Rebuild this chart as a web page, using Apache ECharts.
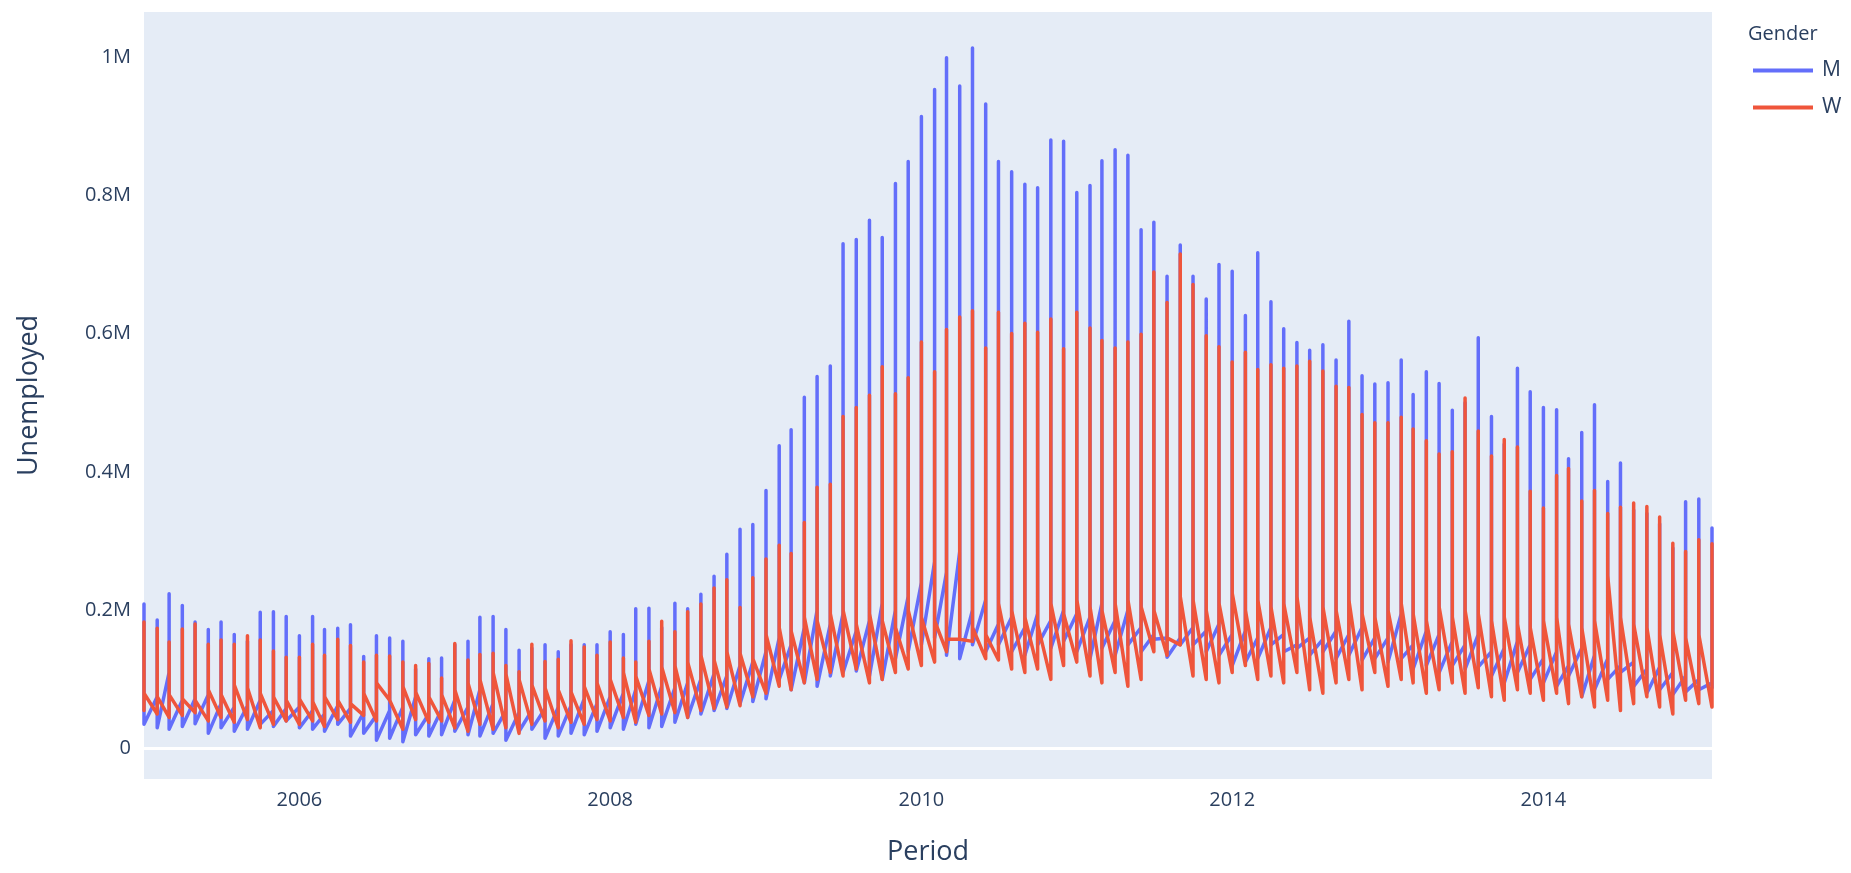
<!DOCTYPE html>
<html>
<head>
<meta charset="utf-8">
<script src="https://cdn.jsdelivr.net/npm/echarts@6/dist/echarts.min.js"></script>
<style>
html, body { margin: 0; padding: 0; background: #fff; }
#chart { width: 1851px; height: 873px; }
</style>
</head>
<body>
<div id="chart"></div>
<script>
// monthly periods, Jan 2005 .. Feb 2015 (122 months); values in thousands
var startYear = 2005;
var yTicks = [0, 200000, 400000, 600000, 800000, 1000000];
var xTickYears = [2006, 2008, 2010, 2012, 2014];

// Men: first point of the month, the spike (peak), last point of the month
var menFirst = [
  60,75,110,70,72,78,65,60,62,70,55,58,
  60,55,50,62,58,52,48,55,60,75,50,56,
  70,60,85,65,55,52,55,58,60,62,72,65,
  75,80,85,98,90,88,95,100,108,105,120,125,
  140,160,150,175,200,180,195,170,185,210,200,220,
  240,270,255,285,200,215,180,190,175,195,185,200,
  195,190,210,185,200,175,165,160,160,175,170,180,
  165,170,160,175,165,150,160,158,170,165,175,160,
  160,195,150,170,165,155,150,165,140,145,155,150,
  130,140,120,145,135,130,120,125,115,118,110,105,
  100,95
];
var menPeak = [
  209,186,224,207,183,172,183,165,155,197,198,191,
  163,191,172,174,179,133,163,160,155,115,130,131,
  150,155,190,191,172,142,145,150,140,150,150,150,
  169,165,202,203,175,210,202,223,249,281,317,324,
  373,438,461,508,538,553,730,736,764,739,817,849,
  914,953,999,958,1013,932,849,834,816,811,880,878,
  804,814,850,866,858,750,761,683,728,683,650,700,
  690,626,717,646,607,587,576,584,562,618,539,527,
  529,562,512,545,528,489,500,594,480,440,550,516,
  493,490,419,457,497,386,413,345,340,325,290,357,
  361,319
];
var menLast = [
  35,30,28,32,36,22,30,25,28,35,32,40,
  30,28,25,35,18,22,12,15,10,20,18,20,
  25,20,18,22,12,25,28,15,18,22,20,25,
  30,28,35,30,32,38,45,50,55,58,65,68,
  72,100,85,95,90,105,110,112,105,100,130,140,
  150,160,135,130,150,140,150,140,135,150,145,155,
  140,130,145,135,150,140,158,132,150,150,140,135,
  120,125,130,150,140,145,135,140,130,135,128,130,
  125,130,115,120,110,120,115,118,105,95,110,100,
  95,90,105,75,85,100,110,90,80,85,78,82,
  85,88
];

// Women
var womenFirst = [
  55,50,45,48,52,40,45,38,42,30,35,40,
  35,40,32,42,38,48,40,70,28,42,38,40,
  30,25,35,28,30,22,35,40,30,38,35,42,
  40,45,38,48,50,52,45,55,58,60,62,75,
  80,90,85,95,100,110,105,115,95,100,110,115,
  120,125,140,158,155,130,128,115,110,115,100,120,
  125,105,95,110,90,100,140,135,150,105,100,95,
  110,120,100,105,95,110,85,80,95,100,85,110,
  90,100,95,80,85,95,80,88,75,70,85,80,
  70,80,65,75,60,70,55,65,75,60,50,70,
  65,60
];
var womenPeak = [
  183,174,154,173,180,151,157,151,163,157,141,132,
  132,151,135,158,149,125,135,134,125,120,123,102,
  152,128,136,138,120,111,151,126,129,156,147,135,
  154,131,125,155,184,169,198,209,232,244,204,247,
  274,294,282,327,378,382,480,493,511,552,513,536,
  588,545,606,624,633,579,631,600,615,602,621,578,
  631,608,590,579,588,599,689,645,715,671,597,581,
  559,573,548,555,550,553,560,546,524,522,483,471,
  471,479,462,445,426,429,507,459,423,447,436,372,
  348,395,405,358,373,340,349,355,350,335,297,285,
  302,296
];
var womenLast = [
  80,75,78,72,70,85,78,92,88,80,75,70,
  72,68,75,70,65,80,95,70,90,82,75,78,
  85,95,100,110,108,100,92,88,85,82,90,95,
  100,110,105,115,118,120,125,135,128,140,138,130,
  165,175,170,190,185,195,200,180,195,185,175,200,
  190,185,158,158,175,165,210,200,190,180,210,195,
  215,205,200,210,215,205,200,160,220,215,200,210,
  225,200,215,205,210,220,190,205,200,215,195,190,
  200,210,195,185,205,190,200,195,185,190,180,175,
  185,190,180,175,185,250,190,180,175,165,170,160,
  165,150
];

var textColor = '#2a3f5f';
var fontFam = '"Open Sans", verdana, arial, sans-serif';

function buildLine(first, peak, last) {
    var pts = [];
    for (var i = 0; i < peak.length; i++) {
        var t = Date.UTC(startYear, i, 1);
        pts.push([t, first[i] * 1000], [t, peak[i] * 1000], [t, last[i] * 1000]);
    }
    return pts;
}

var chart = echarts.init(document.getElementById('chart'));

var option = {
    animation: false,
    backgroundColor: '#fff',
    title: {
        text: 'Gender',
        left: 1748,
        top: 24,
        padding: 0,
        textStyle: {fontFamily: fontFam, fontSize: 20, fontWeight: 'normal', color: textColor}
    },
    // legend names get cut off at the right edge, like the original
    legend: {
        orient: 'vertical',
        left: 1753,
        top: 59,
        padding: 0,
        icon: 'rect',
        itemWidth: 60,
        itemHeight: 4,
        itemGap: 14,
        textStyle: {
            fontFamily: fontFam, fontSize: 21, color: textColor, lineHeight: 23,
            padding: [0, 0, 0, 4], width: 21, overflow: 'truncate', ellipsis: ''
        },
        data: ['Men', 'Women']
    },
    grid: {
        left: 144,
        right: 139,
        top: 12,
        bottom: 94,
        show: true,
        backgroundColor: '#E5ECF6',
        borderWidth: 0
    },
    // time values on a plain value axis so the year ticks can be placed exactly
    xAxis: {
        type: 'value',
        min: Date.UTC(startYear, 0, 1),
        max: Date.UTC(2015, 1, 1),
        name: 'Period',
        nameLocation: 'middle',
        nameGap: 60,
        nameTextStyle: {fontFamily: fontFam, fontSize: 27, color: textColor},
        axisLine: {show: false},
        axisTick: {show: false},
        splitLine: {show: false},
        axisLabel: {
            customValues: xTickYears.map(function (y) { return Date.UTC(y, 0, 1); }),
            formatter: function (v) { return String(new Date(v).getUTCFullYear()); },
            margin: 11,
            fontFamily: fontFam,
            fontSize: 20,
            color: textColor
        }
    },
    yAxis: {
        type: 'value',
        min: -44000,
        max: 1065000,
        name: 'Unemployed',
        nameLocation: 'middle',
        nameGap: 101,
        nameTextStyle: {fontFamily: fontFam, fontSize: 27, color: textColor},
        axisLine: {show: false},
        axisTick: {show: false},
        splitLine: {show: false},
        axisLabel: {
            customValues: yTicks,
            formatter: function (v) { return v === 0 ? '0' : (v / 1e6) + 'M'; },
            margin: 13,
            fontFamily: fontFam,
            fontSize: 20,
            color: textColor
        }
    },
    series: [
        {
            name: 'Men',
            type: 'line',
            data: buildLine(menFirst, menPeak, menLast),
            showSymbol: false,
            symbol: 'none',
            itemStyle: {color: '#636efa'},
            lineStyle: {color: '#636efa', width: 3.5, cap: 'round', join: 'round'},
            markLine: {
                silent: true,
                symbol: ['none', 'none'],
                label: {show: false},
                lineStyle: {color: '#ffffff', width: 3, type: 'solid'},
                data: [{yAxis: 0}]
            }
        },
        {
            name: 'Women',
            type: 'line',
            data: buildLine(womenFirst, womenPeak, womenLast),
            showSymbol: false,
            symbol: 'none',
            itemStyle: {color: '#EF553B'},
            lineStyle: {color: '#EF553B', width: 3.5, cap: 'round', join: 'round'}
        }
    ]
};

chart.setOption(option);
</script>
</body>
</html>
